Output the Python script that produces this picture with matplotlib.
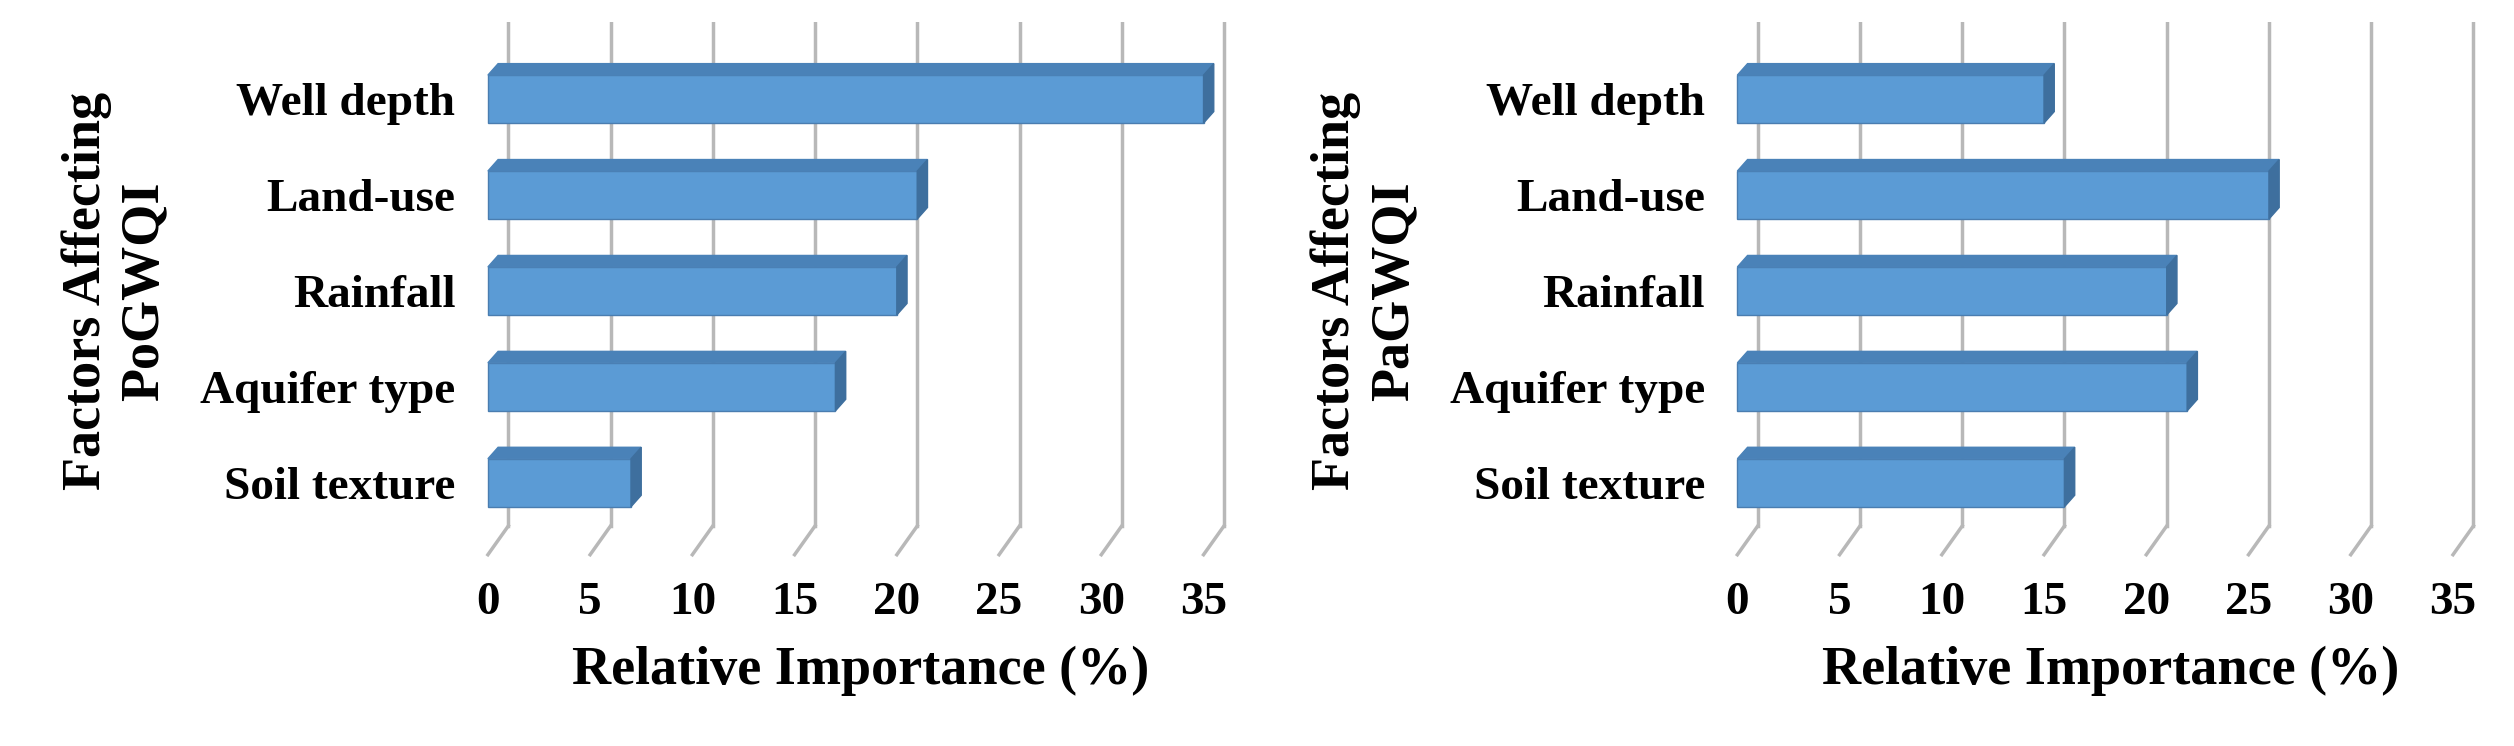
import matplotlib
matplotlib.use("Agg")
import matplotlib.pyplot as plt
from matplotlib.patches import Polygon, Rectangle

factors = ["Soil texture", "Aquifer type", "Rainfall", "Land-use", "Well depth"]
po_values = [7, 17, 20, 21, 35]
pa_values = [16, 22, 21, 26, 15]
xticks = [0, 5, 10, 15, 20, 25, 30, 35]

plt.rcParams['font.family'] = ['Liberation Serif', 'DejaVu Serif']
plt.rcParams['font.weight'] = 'bold'

fig = plt.figure(figsize=(25.14, 7.46), dpi=100)
axes = [fig.add_axes([0.19, 0.25, 0.305, 0.72]), fig.add_axes([0.687, 0.25, 0.305, 0.72])]
ylabels = ["Factors Affecting\nPoGWQI", "Factors Affecting\nPaGWQI"]
dx, dy = 1.0, 0.3
front, top, side = "#5b9bd5", "#4a82b8", "#3e6f9e"
for ax, vals, yl in zip(axes, [po_values, pa_values], ylabels):
    ylow = -0.75
    for t in xticks:
        ax.plot([t, t + dx], [ylow, ylow + dy], color="#b8b8b8", lw=2.5, zorder=1)
        ax.plot([t + dx, t + dx], [ylow + dy, 4.8], color="#b8b8b8", lw=2.5, zorder=1)
    h = 0.5
    for i, v in enumerate(vals):
        y0 = i - h / 2
        ax.add_patch(Rectangle((0, y0), v, h, facecolor=front, edgecolor="#4a7db0", lw=1, zorder=3))
        ax.add_patch(Polygon([(0, y0 + h), (dx * 0.5, y0 + h + dy * 0.4), (v + dx * 0.5, y0 + h + dy * 0.4), (v, y0 + h)],
                             facecolor=top, edgecolor=top, zorder=3))
        ax.add_patch(Polygon([(v, y0), (v + dx * 0.5, y0 + dy * 0.4), (v + dx * 0.5, y0 + h + dy * 0.4), (v, y0 + h)],
                             facecolor=side, edgecolor=side, zorder=3))
    ax.set_xlim(-0.5, 37)
    ax.set_ylim(-0.8, 4.8)
    ax.set_yticks(range(len(factors)))
    ax.set_yticklabels(factors, fontsize=34, fontweight='bold')
    ax.set_xticks(xticks)
    ax.set_xticklabels([str(t) for t in xticks], fontsize=34, fontweight='bold')
    ax.tick_params(length=0, pad=16)
    for s in ax.spines.values():
        s.set_visible(False)
    ax.set_xlabel("Relative Importance (%)", fontsize=39, fontweight='bold', labelpad=16)
    ax.set_ylabel(yl, fontsize=39, fontweight='bold', labelpad=22)

fig.savefig("out.png")
